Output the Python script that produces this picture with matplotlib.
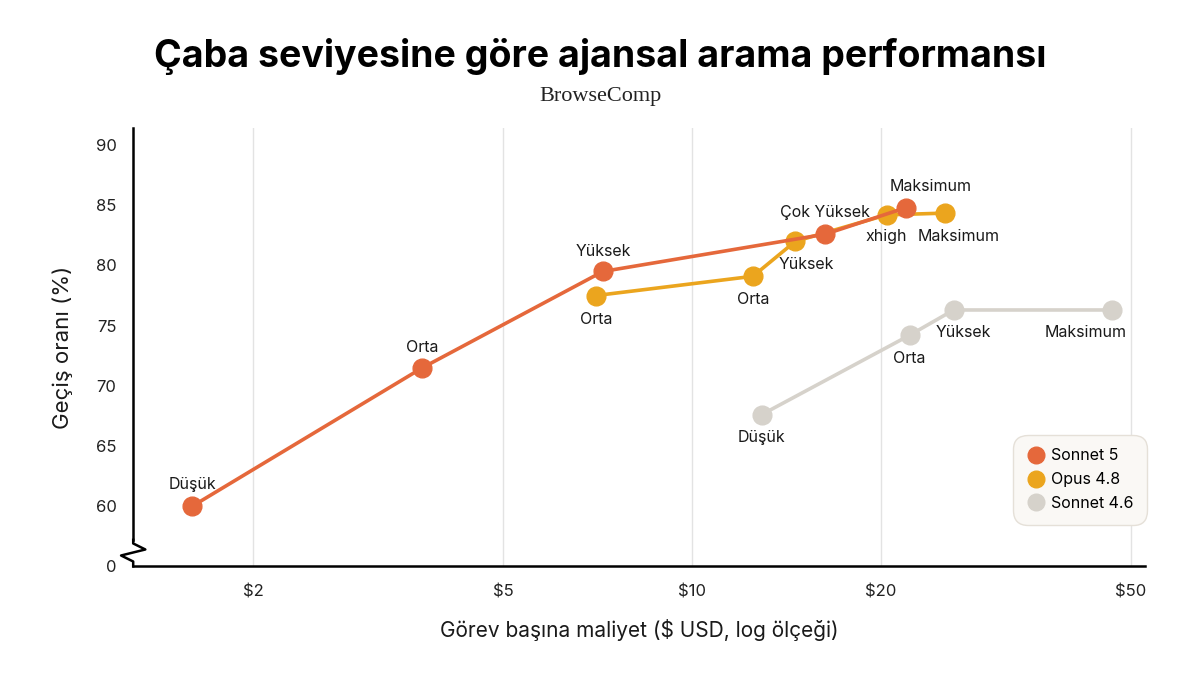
import matplotlib
matplotlib.use("Agg")
import matplotlib.pyplot as plt
import matplotlib.transforms as mtransforms
from matplotlib.lines import Line2D
from matplotlib.ticker import FixedLocator, NullLocator

plt.rcParams['font.family'] = ['Inter', 'DejaVu Sans']

# data
sonnet5_cost = [1.60, 3.72, 7.21, 16.3, 21.9]
sonnet5_score = [60.0, 71.5, 79.5, 82.6, 84.8]
sonnet5_labels = ["Düşük", "Orta", "Yüksek", "Çok Yüksek", "Maksimum"]

opus_cost = [7.03, 12.5, 14.6, 20.4, 25.3]
opus_score = [77.5, 79.1, 82.0, 84.2, 84.35]
opus_labels = ["Orta", "Orta", "Yüksek", "xhigh", "Maksimum"]

sonnet46_cost = [12.9, 22.2, 26.1, 46.7]
sonnet46_score = [67.6, 74.2, 76.3, 76.3]
sonnet46_labels = ["Düşük", "Orta", "Yüksek", "Maksimum"]

x_ticks = [2, 5, 10, 20, 50]
x_ticklabels = ["$2", "$5", "$10", "$20", "$50"]
y_ticks = [55, 60, 65, 70, 75, 80, 85, 90]
y_ticklabels = ["0", "60", "65", "70", "75", "80", "85", "90"]

c_s5 = "#E5683B"
c_op = "#EBA51E"
c_s46 = "#D6D2CB"

fig = plt.figure(figsize=(12, 6.75), dpi=100)
ax = fig.add_axes([0.111, 0.161, 0.843, 0.649])

ax.set_xscale('log')
ax.set_xlim(1.288, 52.6)
ax.set_ylim(55, 91.4)

ax.xaxis.set_major_locator(FixedLocator(x_ticks))
ax.xaxis.set_minor_locator(NullLocator())
ax.set_xticks(x_ticks)
ax.set_xticklabels(x_ticklabels)
ax.set_yticks(y_ticks)
ax.set_yticklabels(y_ticklabels)
ax.tick_params(axis='both', length=0, labelsize=12, colors='#222222')
ax.tick_params(axis='x', pad=13)
ax.tick_params(axis='y', pad=12)
ax.grid(axis='x', color='#E3E3E3', linewidth=1)
ax.set_axisbelow(True)

for s in ['top', 'right']:
    ax.spines[s].set_visible(False)
ax.spines['bottom'].set_linewidth(1.8)
ax.spines['left'].set_linewidth(1.8)
ax.spines['left'].set_bounds(57.2, 91.4)

# zigzag break on the left spine
trans = mtransforms.blended_transform_factory(ax.transAxes, ax.transData)
zx = [0.0, 0.0, 0.012, -0.012, 0.0, 0.0]
zy = [57.2, 56.9, 56.4, 55.9, 55.4, 55.0]
ax.plot(zx, zy, color='black', lw=1.8, transform=trans, clip_on=False, zorder=5)

ms = 13.5
lw = 2.6
ax.plot(sonnet46_cost, sonnet46_score, '-o', color=c_s46, ms=ms, lw=lw, zorder=3)
ax.plot(opus_cost, opus_score, '-o', color=c_op, ms=ms, lw=lw, zorder=4)
ax.plot(sonnet5_cost, sonnet5_score, '-o', color=c_s5, ms=ms, lw=lw, zorder=5)

lab_kw = dict(textcoords='offset pixels', ha='center', va='center',
              fontsize=11.5, color='#1a1a1a', zorder=6)
s5_off = [(0, 22), (0, 20), (0, 20), (0, 22), (25, 21)]
for x, y, t, o in zip(sonnet5_cost, sonnet5_score, sonnet5_labels, s5_off):
    ax.annotate(t, (x, y), xytext=o, **lab_kw)
op_off = [(0, -24), (0, -23), (11, -23), (0, -22), (13, -23)]
for x, y, t, o in zip(opus_cost, opus_score, opus_labels, op_off):
    ax.annotate(t, (x, y), xytext=o, **lab_kw)
s46_off = [(0, -23), (0, -23), (10, -23), (-27, -23)]
for x, y, t, o in zip(sonnet46_cost, sonnet46_score, sonnet46_labels, s46_off):
    ax.annotate(t, (x, y), xytext=o, **lab_kw)

ax.set_xlabel("Görev başına maliyet ($ USD, log ölçeği)", fontsize=15, labelpad=14, color='#1a1a1a')
ax.set_ylabel("Geçiş oranı (%)", fontsize=16, labelpad=16, color='#1a1a1a')

handles = [Line2D([], [], marker='o', ls='', color=c, ms=12) for c in (c_s5, c_op, c_s46)]
leg = ax.legend(handles, ["Sonnet 5", "Opus 4.8", "Sonnet 4.6"], loc='lower right',
                bbox_to_anchor=(1.01, 0.077), fontsize=11.5, frameon=True, fancybox=True,
                handletextpad=0.3, borderpad=0.85, labelspacing=0.55, handlelength=1.2)
frame = leg.get_frame()
frame.set_facecolor('#FAF8F5')
frame.set_edgecolor('#E5E0D8')
frame.set_alpha(1)
frame.set_boxstyle('round,pad=0,rounding_size=0.9')

fig.text(0.5, 0.917, "Çaba seviyesine göre ajansal arama performansı", ha='center', va='center',
         fontsize=27, fontweight='bold', color='black')
fig.text(0.5, 0.857, "BrowseComp", ha='center', va='center', fontsize=16,
         family=['Liberation Serif', 'DejaVu Serif'], color='#222222')

fig.savefig("out.png", dpi=100, facecolor='white')
